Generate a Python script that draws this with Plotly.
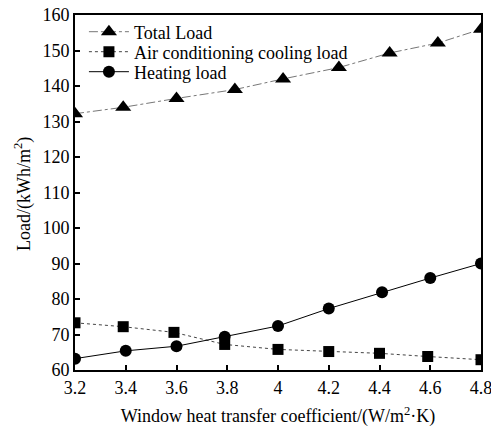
import plotly.graph_objects as go

total_x = [3.2, 3.39, 3.6, 3.83, 4.02, 4.24, 4.44, 4.63, 4.8]
total_y = [132.2, 134.0, 136.5, 139.0, 142.0, 145.2, 149.3, 152.1, 156.0]

cool_x = [3.2, 3.39, 3.59, 3.79, 4.0, 4.2, 4.4, 4.59, 4.8]
cool_y = [73.3, 72.2, 70.6, 67.2, 65.8, 65.2, 64.7, 63.8, 62.9]

heat_x = [3.2, 3.4, 3.6, 3.79, 4.0, 4.2, 4.41, 4.6, 4.8]
heat_y = [63.2, 65.4, 66.7, 69.4, 72.4, 77.3, 81.9, 85.9, 90.0]

x_ticks = [3.2, 3.4, 3.6, 3.8, 4.0, 4.2, 4.4, 4.6, 4.8]
x_tick_labels = ["3.2", "3.4", "3.6", "3.8", "4", "4.2", "4.4", "4.6", "4.8"]
y_ticks = [60, 70, 80, 90, 100, 110, 120, 130, 140, 150, 160]

FONT = "Liberation Serif, Times New Roman, serif"
FS = 18

fig = go.Figure()
fig.add_trace(go.Scatter(
    x=total_x, y=total_y, name="Total Load", mode="lines+markers", legend="legend",
    line=dict(color="#777777", width=1, dash="dashdot"),
    marker=dict(symbol="triangle-up", size=14, color="black"),
))
fig.add_trace(go.Scatter(
    x=cool_x, y=cool_y, name="Air conditioning cooling load", mode="lines+markers",
    legend="legend2",
    line=dict(color="#444444", width=1, dash="dot"),
    marker=dict(symbol="square", size=11, color="black"),
))
fig.add_trace(go.Scatter(
    x=heat_x, y=heat_y, name="Heating load", mode="lines+markers", legend="legend3",
    line=dict(color="black", width=1),
    marker=dict(symbol="circle", size=12, color="black"),
))

axis_common = dict(
    showgrid=False, zeroline=False, showline=True, linecolor="black", linewidth=2,
    mirror=True, ticks="inside", ticklen=5, tickwidth=2, tickcolor="black",
    tickfont=dict(family=FONT, size=FS, color="black"), automargin=False,
    ticklabeloverflow="allow",
)

# plot area: y from 15 (top) to 370 (bottom) -> 355 px
def ypos(px):
    return (370 - px) / 355.0

leg_common = dict(x=0.022, xanchor="left", yanchor="middle",
                  bgcolor="rgba(0,0,0,0)", font=dict(family=FONT, size=FS),
                  itemwidth=40)

fig.update_layout(
    width=491, height=429,
    margin=dict(l=75, r=10, t=15, b=59),
    paper_bgcolor="white", plot_bgcolor="white",
    font=dict(family=FONT, size=FS, color="black"),
    showlegend=True,
    legend=dict(y=ypos(32), **leg_common),
    legend2=dict(y=ypos(52), **leg_common),
    legend3=dict(y=ypos(72), **leg_common),
    xaxis=dict(range=[3.2, 4.8], tickvals=x_ticks, ticktext=x_tick_labels,
               title=dict(text="Window heat transfer coefficient/(W/m<sup>2</sup>·K)",
                          font=dict(family=FONT, size=FS), standoff=13),
               **axis_common),
    yaxis=dict(range=[60, 160], tickvals=y_ticks, **axis_common),
    annotations=[dict(
        text="Load/(kWh/m<sup>2</sup>)", textangle=-90, showarrow=False,
        xref="paper", yref="paper", x=(23 - 75) / 406.0, y=ypos(194),
        xanchor="center", yanchor="middle", font=dict(family=FONT, size=FS),
    )],
)

fig.write_html("out.html", config={"displayModeBar": False},
               post_script="document.body.style.margin='0';")
